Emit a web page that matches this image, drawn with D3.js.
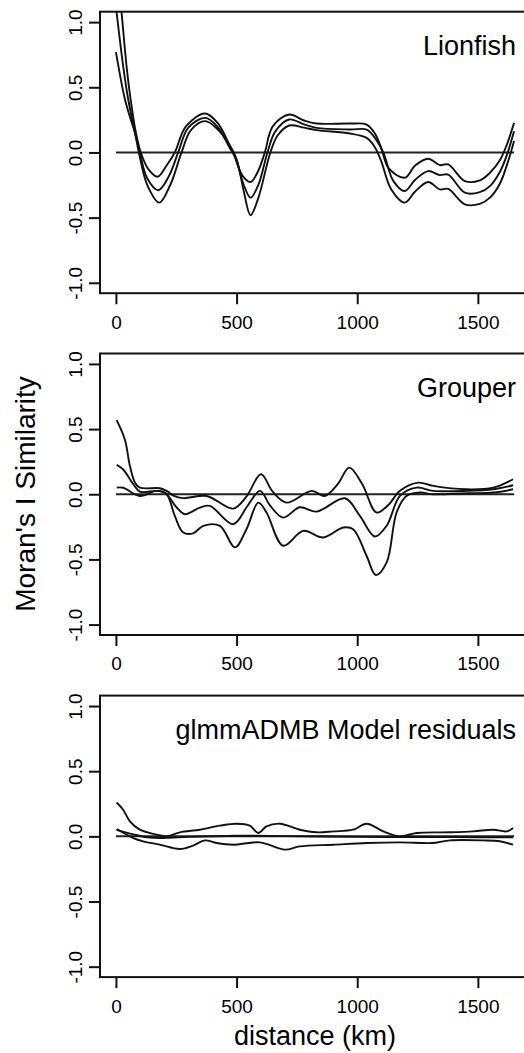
<!DOCTYPE html>
<html><head><meta charset="utf-8">
<script src="https://cdn.jsdelivr.net/npm/d3@7"></script>
<style>
body{margin:0;background:#fff}
svg{display:block}
text{font-family:"Liberation Sans",Arial,Helvetica,sans-serif;fill:#000}
</style>
</head><body>
<script>
// ---- data ----
const distanceTicks = [0, 500, 1000, 1500];
const moranTicks = [-1, -0.5, 0, 0.5, 1];
const moranTickLabels = ["-1.0", "-0.5", "0.0", "0.5", "1.0"];
const panelTitles = ["Lionfish", "Grouper", "glmmADMB Model residuals"];
const zeroLine = [[0, 0], [1650, 0]];

const lionfishUpper = [[0,1.5],[23,1.08],[44,0.663],[61,0.406],[83,0.15],[103,0],[135,-0.13],[173,-0.186],[210,-0.1],[244,0],[290,0.2],[369,0.299],[420,0.23],[470,0.06],[490,-0.02],[525,-0.18],[558,-0.227],[590,-0.14],[617,0],[650,0.2],[718,0.291],[780,0.245],[831,0.222],[970,0.222],[1039,0.214],[1075,0.14],[1100,0.03],[1130,-0.12],[1197,-0.194],[1240,-0.1],[1294,-0.048],[1342,-0.097],[1377,-0.092],[1446,-0.22],[1508,-0.214],[1550,-0.156],[1591,-0.06],[1620,0.06],[1650,0.227]];
const lionfishMean = [[0,1.12],[30,0.663],[51,0.406],[79,0.15],[99,0],[130,-0.2],[176,-0.29],[220,-0.18],[258,0],[300,0.19],[369,0.265],[420,0.2],[470,0.04],[495,-0.04],[530,-0.25],[558,-0.347],[590,-0.25],[628,0],[660,0.16],[718,0.253],[780,0.215],[831,0.189],[970,0.176],[1039,0.176],[1070,0.12],[1108,0],[1150,-0.22],[1197,-0.296],[1240,-0.21],[1294,-0.143],[1342,-0.174],[1377,-0.17],[1446,-0.309],[1508,-0.305],[1550,-0.258],[1591,-0.15],[1620,-0.02],[1650,0.163]];
const lionfishLower = [[0,0.77],[37,0.41],[60,0.26],[79,0.15],[95,0],[130,-0.25],[180,-0.385],[225,-0.25],[272,0],[310,0.17],[370,0.24],[420,0.18],[470,0.06],[500,-0.05],[530,-0.3],[558,-0.482],[590,-0.35],[640,0],[670,0.13],[718,0.207],[780,0.19],[831,0.171],[970,0.145],[1039,0.112],[1070,0.05],[1100,-0.07],[1140,-0.28],[1197,-0.385],[1240,-0.3],[1294,-0.227],[1342,-0.283],[1377,-0.28],[1446,-0.398],[1508,-0.395],[1550,-0.347],[1591,-0.24],[1625,-0.07],[1650,0.087]];

const grouperUpper = [[3,0.569],[37,0.42],[58,0.217],[79,0.089],[99,0.051],[182,0.046],[210,0.026],[238,-0.01],[279,-0.03],[376,-0.013],[486,-0.11],[540,-0.02],[601,0.153],[650,0.02],[707,-0.064],[811,0.026],[866,-0.013],[920,0.08],[967,0.204],[1020,0.08],[1080,-0.14],[1130,-0.08],[1177,0.026],[1253,0.089],[1315,0.064],[1453,0.038],[1564,0.051],[1646,0.115]];
const grouperMean = [[3,0.225],[30,0.19],[72,0.077],[99,0.02],[169,0.026],[203,0.013],[251,-0.1],[286,-0.153],[348,-0.102],[389,-0.089],[486,-0.23],[545,-0.09],[597,0.026],[640,-0.09],[693,-0.179],[762,-0.1],[832,-0.133],[949,-0.031],[1011,-0.166],[1073,-0.324],[1122,-0.242],[1177,-0.013],[1246,0.051],[1315,0.026],[1453,0.026],[1564,0.038],[1646,0.069]];
const grouperLower = [[3,0.051],[30,0.05],[99,-0.013],[169,0.026],[210,0],[244,-0.166],[279,-0.294],[320,-0.3],[362,-0.242],[431,-0.242],[493,-0.408],[541,-0.268],[590,-0.064],[624,-0.14],[693,-0.395],[776,-0.281],[859,-0.332],[942,-0.255],[983,-0.268],[1039,-0.474],[1077,-0.62],[1122,-0.523],[1163,-0.14],[1204,-0.013],[1260,0.013],[1315,0],[1453,0.008],[1564,0.013],[1646,0.038]];

const residualUpper = [[3,0.26],[30,0.204],[58,0.115],[99,0.051],[169,0.013],[210,0],[265,0.031],[348,0.051],[431,0.082],[500,0.097],[555,0.082],[590,0.026],[624,0.077],[680,0.097],[762,0.051],[832,0.031],[901,0.038],[983,0.051],[1039,0.097],[1108,0.038],[1177,0],[1246,0.026],[1384,0.031],[1481,0.038],[1564,0.051],[1619,0.038],[1646,0.064]];
const residualMean = [[3,0.05],[72,0.015],[141,-0.01],[210,-0.012],[300,-0.004],[500,0.005],[700,0.002],[1000,-0.004],[1200,-0.005],[1400,-0.006],[1646,-0.008]];
const residualLower = [[3,0.056],[72,-0.013],[113,-0.038],[182,-0.064],[265,-0.097],[320,-0.071],[369,-0.031],[417,-0.051],[486,-0.064],[597,-0.046],[700,-0.102],[762,-0.077],[901,-0.064],[1039,-0.051],[1177,-0.046],[1315,-0.051],[1384,-0.031],[1522,-0.031],[1591,-0.038],[1646,-0.064]];

const panelSeries = [
  [lionfishUpper, lionfishMean, lionfishLower],
  [grouperUpper, grouperMean, grouperLower],
  [residualUpper, residualMean, residualLower]
];

// ---- layout ----
const W = 524, H = 1053;
const left = 100, right = 530, panelH = 281.5;
const tops = [11.7, 353.5, 695.6];

const svg = d3.select("body").append("svg").attr("width", W).attr("height", H);
const x = d3.scaleLinear().domain([-66, 1716]).range([left, right]);

panelSeries.forEach((series, i) => {
  const top = tops[i];
  const y = d3.scaleLinear().domain([-1.08, 1.08]).range([top + panelH, top]);
  const g = svg.append("g");

  const clipId = "clip" + i;
  svg.append("clipPath").attr("id", clipId).append("rect")
    .attr("x", left).attr("y", top).attr("width", right - left).attr("height", panelH);

  const line = d3.line().x(d => x(d[0])).y(d => y(d[1])).curve(d3.curveCatmullRom.alpha(0.5));
  const plot = g.append("g").attr("clip-path", `url(#${clipId})`);

  plot.append("path").datum(zeroLine).attr("d", d3.line().x(d => x(d[0])).y(d => y(d[1])))
    .attr("fill", "none").attr("stroke", "#222").attr("stroke-width", 2);

  series.forEach(s => {
    plot.append("path").datum(s).attr("d", line)
      .attr("fill", "none").attr("stroke", "#111").attr("stroke-width", 1.9)
      .attr("stroke-linejoin", "round");
  });

  // box
  g.append("rect").attr("x", left).attr("y", top).attr("width", right - left).attr("height", panelH)
    .attr("fill", "none").attr("stroke", "#111").attr("stroke-width", 2);

  // x axis
  const xa = g.append("g").attr("transform", `translate(0,${top + panelH})`)
    .call(d3.axisBottom(x).tickValues(distanceTicks).tickSize(11).tickPadding(11).tickFormat(d => String(d)));
  xa.select(".domain").remove();
  xa.selectAll("line").attr("stroke", "#111").attr("stroke-width", 2);
  xa.selectAll("text").attr("font-size", 19).attr("font-family", '"Liberation Sans",Arial,sans-serif').attr("fill", "#000");

  // y axis
  const ya = g.append("g").attr("transform", `translate(${left},0)`)
    .call(d3.axisLeft(y).tickValues(moranTicks).tickSize(11).tickFormat((d, k) => moranTickLabels[k]));
  ya.select(".domain").remove();
  ya.selectAll("line").attr("stroke", "#111").attr("stroke-width", 2);
  ya.selectAll("text").attr("font-size", 19).attr("font-family", '"Liberation Sans",Arial,sans-serif').attr("fill", "#000")
    .attr("x", null).attr("dy", null).attr("text-anchor", "middle")
    .attr("transform", "translate(-18,0) rotate(-90)");

  // panel title
  g.append("text").attr("x", 516).attr("y", top + 43.5).attr("text-anchor", "end")
    .attr("font-size", 27).text(panelTitles[i]);
});

// axis titles
svg.append("text").attr("transform", "translate(35,494) rotate(-90)").attr("text-anchor", "middle")
  .attr("font-size", 28).text("Moran's I Similarity");
svg.append("text").attr("x", 315).attr("y", 1045).attr("text-anchor", "middle")
  .attr("font-size", 27).text("distance (km)");
</script>
</body></html>
